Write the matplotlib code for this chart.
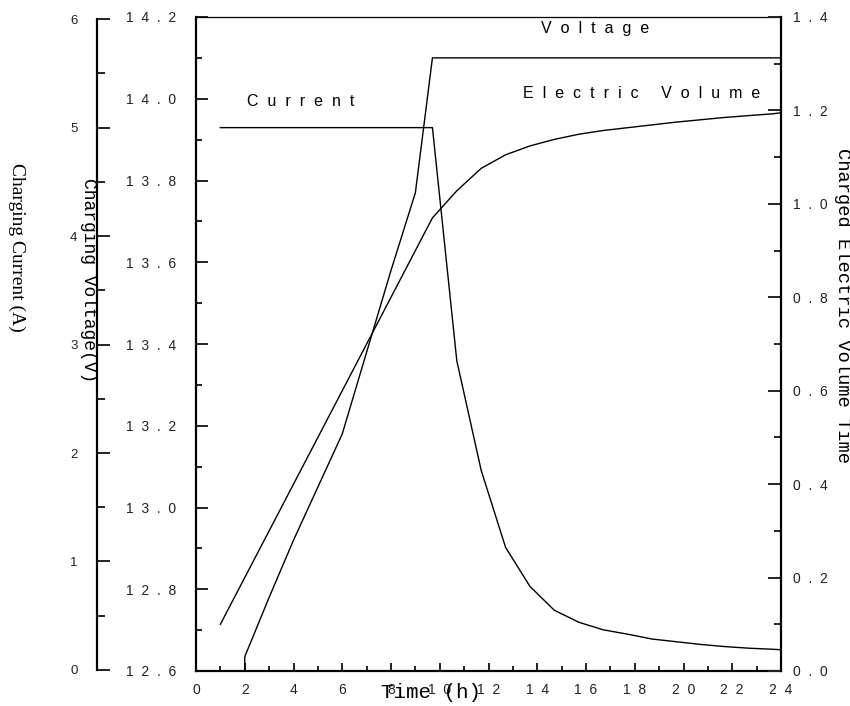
import matplotlib
matplotlib.use("Agg")
import matplotlib.pyplot as plt
from matplotlib.ticker import MultipleLocator

plt.rcParams["font.family"] = ["Liberation Sans", "DejaVu Sans"]

# values
time_voltage = [2, 2, 3, 4, 5, 6, 7, 8, 9, 9.7, 24]
voltage = [12.60, 12.635, 12.78, 12.92, 13.05, 13.18, 13.38, 13.58, 13.77, 14.10, 14.10]

time_current = [1, 9.7, 10.7, 11.7, 12.7, 13.7, 14.7, 15.7, 16.7, 17.7, 18.7, 19.7, 20.7, 21.7, 22.7, 23.7, 24]
current = [5.0, 5.0, 2.85, 1.84, 1.13, 0.77, 0.55, 0.44, 0.37, 0.33, 0.285, 0.26, 0.235, 0.215, 0.20, 0.19, 0.186]

time_volume = [1, 2, 3, 4, 5, 6, 7, 8, 9, 9.7, 10.7, 11.7, 12.7, 13.7, 14.7, 15.7, 16.7, 17.7, 18.7, 19.7, 20.7, 21.7, 22.7, 23.7, 24]
volume = [0.1, 0.2, 0.3, 0.4, 0.5, 0.6, 0.7, 0.8, 0.9, 0.97, 1.028, 1.076, 1.105, 1.124, 1.138, 1.149, 1.157,
          1.163, 1.169, 1.175, 1.180, 1.185, 1.189, 1.193, 1.195]

time_ticks = [0, 2, 4, 6, 8, 10, 12, 14, 16, 18, 20, 22, 24]
voltage_ticks = [12.6, 12.8, 13.0, 13.2, 13.4, 13.6, 13.8, 14.0, 14.2]
volume_ticks = [0.0, 0.2, 0.4, 0.6, 0.8, 1.0, 1.2, 1.4]
current_ticks = [0, 1, 2, 3, 4, 5, 6]


def spaced(s):
    # the original labels are drawn with wide letter spacing
    return "  ".join(s)


fig = plt.figure(figsize=(8.5, 7.06), dpi=100)
ax = fig.add_axes([196 / 850, 35 / 706, 585 / 850, 654 / 706])

# voltage on the main axes
ax.plot(time_voltage, voltage, color="black", lw=1.0)
ax.set_xlim(0, 24)
ax.set_ylim(12.6, 14.2)
ax.set_xticks(time_ticks)
ax.set_xticklabels([spaced(str(t)) for t in time_ticks])
ax.xaxis.set_minor_locator(MultipleLocator(1))
ax.set_yticks(voltage_ticks)
ax.set_yticklabels([spaced(f"{v:.1f}") for v in voltage_ticks])
ax.yaxis.set_minor_locator(MultipleLocator(0.1))
ax.tick_params(axis="both", which="both", direction="in", width=1.4, labelsize=10, colors="#222222")
ax.tick_params(axis="x", which="major", length=6, pad=9)
ax.tick_params(axis="x", which="minor", length=3.5)
ax.tick_params(axis="y", which="major", length=8.5, pad=14)
ax.tick_params(axis="y", which="minor", length=4.3)
ax.spines["left"].set_linewidth(1.6)
ax.spines["bottom"].set_linewidth(1.6)
ax.spines["top"].set_linewidth(0.9)
ax.spines["right"].set_visible(False)

# charged volume on the right
ax_r = ax.twinx()
ax_r.plot(time_volume, volume, color="black", lw=1.0)
ax_r.set_ylim(0, 1.4)
ax_r.set_yticks(volume_ticks)
ax_r.set_yticklabels([spaced(f"{v:.1f}") for v in volume_ticks])
ax_r.yaxis.set_minor_locator(MultipleLocator(0.1))
ax_r.tick_params(axis="y", which="both", direction="in", width=1.4, labelsize=10, colors="#222222")
ax_r.tick_params(axis="y", which="major", length=9.5, pad=9)
ax_r.tick_params(axis="y", which="minor", length=5)
for side in ["left", "top", "bottom"]:
    ax_r.spines[side].set_visible(False)
ax_r.spines["right"].set_linewidth(1.6)

# current on an extra axis further left
ax_c = ax.twinx()
ax_c.plot(time_current, current, color="black", lw=1.0)
ax_c.set_ylim(-0.01, 6.02)
ax_c.yaxis.set_ticks_position("left")
ax_c.yaxis.set_label_position("left")
ax_c.spines["left"].set_position(("axes", (97 - 196) / 585))
ax_c.spines["left"].set_bounds(0, 6)
ax_c.spines["left"].set_linewidth(1.6)
for side in ["right", "top", "bottom"]:
    ax_c.spines[side].set_visible(False)
ax_c.set_yticks(current_ticks)
ax_c.set_yticklabels([str(c) for c in current_ticks])
ax_c.yaxis.set_minor_locator(MultipleLocator(0.5))
ax_c.tick_params(axis="y", which="both", direction="in", width=1.4, labelsize=9.5, colors="#222222")
ax_c.tick_params(axis="y", which="major", length=9.5, pad=14)
ax_c.tick_params(axis="y", which="minor", length=5.5)

# axis titles
fig.text(17 / 850, 1 - 247 / 706, "Charging Current (A)", family="Liberation Serif",
         fontsize=14, rotation=270, ha="center", va="center")
fig.text(88 / 850, 1 - 280 / 706, "Charging Voltage(V)", family="Liberation Mono",
         fontsize=13, rotation=270, ha="center", va="center")
fig.text(843 / 850, 1 - 305 / 706, "Charged Electric Volume Time", family="Liberation Mono",
         fontsize=13.5, rotation=270, ha="center", va="center")
fig.text(431 / 850, 1 - 692 / 706, "Time (h)", family="Liberation Mono",
         fontsize=15, ha="center", va="center")

# curve names
fig.text(595 / 850, 1 - 28 / 706, spaced("Voltage"), fontsize=11.5, ha="center", va="center")
fig.text(301 / 850, 1 - 101 / 706, spaced("Current"), fontsize=11.5, ha="center", va="center")
fig.text(642 / 850, 1 - 93 / 706, spaced("Electric") + "     " + spaced("Volume"),
         fontsize=11.5, ha="center", va="center")

fig.savefig("out.png", dpi=100)
